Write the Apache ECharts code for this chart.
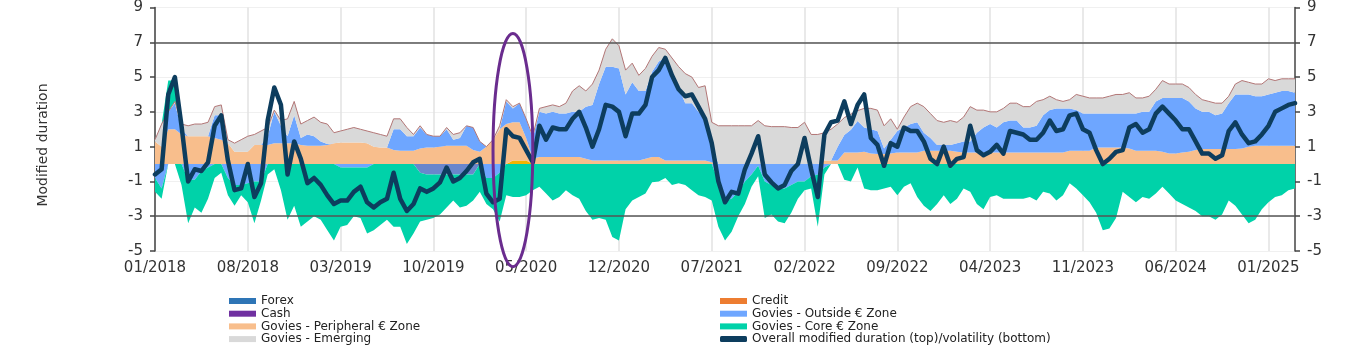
<!DOCTYPE html>
<html><head><meta charset="utf-8">
<script src="https://cdn.jsdelivr.net/npm/echarts@6/dist/echarts.min.js"></script>
<style>html,body{margin:0;padding:0;background:#fff}#c{width:1354px;height:351px}</style>
</head><body><div id="c"></div>
<script>
// x-axis tick labels, one every 7 months (every 14 half-month points)
const tickLabels = ['01/2018','08/2018','03/2019','10/2019','05/2020','12/2020','07/2021','02/2022','09/2022','04/2023','11/2023','06/2024','01/2025'];

// Overall modified duration (half-monthly, 01/2018 .. 03/2025)
const overall = [
-0.6,-0.3,4.0,5.0,2.2,-1.0,-0.3,-0.4,0.1,2.2,
2.8,0.2,-1.5,-1.4,0.0,-1.9,-1.1,2.5,4.4,3.4,
-0.6,1.3,0.3,-1.1,-0.8,-1.2,-1.8,-2.3,-2.1,-2.1,
-1.6,-1.3,-2.2,-2.5,-2.2,-2.0,-0.5,-2.0,-2.7,-2.3,
-1.4,-1.6,-1.4,-1.05,-0.2,-1.0,-0.8,-0.4,0.1,0.3,
-1.7,-2.2,-2.0,2.0,1.6,1.5,0.8,0.1,2.2,1.4,
2.1,2.0,2.0,2.6,3.0,2.1,1.0,2.0,3.4,3.3,
3.0,1.6,2.9,2.9,3.4,5.0,5.4,6.1,5.1,4.3,
3.9,4.0,3.3,2.6,1.2,-1.0,-2.2,-1.6,-1.7,-0.3,
0.6,1.6,-0.6,-1.05,-1.4,-1.2,-0.4,0.0,1.5,-0.3,
-1.9,1.7,2.4,2.5,3.6,2.3,3.4,4.0,1.5,1.1,
-0.1,1.2,1.0,2.1,1.9,1.9,1.3,0.3,0.0,1.0,
-0.1,0.3,0.4,2.2,0.8,0.5,0.7,1.1,0.6,1.9,
1.8,1.7,1.4,1.4,1.8,2.5,1.9,2.0,2.8,2.9,
2.0,1.8,0.8,0.0,0.3,0.7,0.8,2.1,2.3,1.8,
2.0,2.9,3.3,2.9,2.5,2.0,2.0,1.3,0.6,0.6,
0.3,0.5,1.9,2.4,1.7,1.2,1.3,1.7,2.2,3.0,
3.2,3.4,3.5];

const peripheral = [
1.3,1.0,2.0,2.0,1.7,1.6,1.6,1.6,1.6,1.5,
1.4,1.2,0.7,0.7,0.7,1.1,1.1,1.1,1.2,1.2,
1.2,1.2,1.1,1.05,1.05,1.05,1.1,1.2,1.24,1.24,
1.24,1.24,1.2,1.0,0.95,0.95,0.8,0.76,0.76,0.76,
0.9,0.95,0.95,1.0,1.05,1.05,1.05,1.05,0.8,0.7,
1.0,1.4,2.0,2.3,2.2,2.2,1.3,0.3,0.4,0.4,
0.4,0.4,0.4,0.4,0.4,0.3,0.2,0.2,0.2,0.2,
0.2,0.2,0.2,0.2,0.3,0.4,0.4,0.2,0.2,0.2,
0.2,0.2,0.2,0.2,0.1,0,0,0,0,0,
0,0,0,0,0,0,0,0,0,0,
0,0.2,0.2,0.2,0.67,0.67,0.67,0.7,0.6,0.57,
0.57,0.6,0.67,0.67,0.67,0.67,0.76,0.76,0.76,0.76,
0.76,0.7,0.67,0.67,0.67,0.67,0.67,0.67,0.67,0.67,
0.67,0.67,0.67,0.67,0.67,0.67,0.67,0.67,0.76,0.76,
0.76,0.76,0.95,0.95,0.95,0.95,0.95,0.9,0.76,0.76,
0.76,0.76,0.7,0.6,0.6,0.67,0.7,0.8,0.86,0.86,
0.86,0.86,0.86,0.86,0.9,1.0,1.05,1.05,1.05,1.05,
1.05,1.05,1.05];

const outside = [
-0.8,-1.4,1.0,1.5,0.3,-0.9,-0.9,-0.4,-0.2,1.3,
1.4,-0.8,-1.2,-1.2,-1.1,-1.0,-1.0,0.5,1.8,1.0,
0.4,1.6,0.4,0.65,0.55,0.25,0.05,0,-0.2,-0.2,
-0.2,-0.2,-0.2,0,0,0,1.2,1.24,0.84,0.84,
1.2,0.75,0.65,0.6,0.95,0.35,0.45,1.15,1.3,0.6,
-0.8,-0.8,-0.5,1.3,0.8,1.1,1.1,1.2,2.6,2.5,
2.6,2.5,2.5,2.6,2.6,3.0,3.2,4.4,5.4,5.4,
5.3,3.8,4.5,4.0,3.9,4.9,5.5,5.9,5.1,4.2,
3.3,3.3,2.8,2.4,1.1,-1.0,-2.1,-2.0,-1.6,-1.0,
-0.6,-0.1,-1.0,-1.2,-1.4,-1.4,-1.2,-1.0,-1.0,-0.7,
-0.6,-0.2,0,0.8,1.0,1.3,1.8,1.4,1.4,1.33,
0.33,0.8,1.23,1.43,1.63,1.73,1.04,0.74,0.34,0.34,
0.34,0.5,0.63,0.63,1.13,1.43,1.63,1.43,1.73,1.83,
1.83,1.43,1.43,1.53,2.13,2.43,2.53,2.53,2.44,2.34,
2.14,2.14,1.95,1.95,1.95,1.95,1.95,2.0,2.14,2.24,
2.24,2.84,3.1,3.2,3.2,3.13,2.9,2.4,2.14,2.14,
1.94,2.04,2.64,3.14,3.1,3.0,2.85,2.85,2.95,3.05,
3.15,3.15,3.05];

const emerging = [
0.1,1.3,0,0.1,0.3,0.6,0.7,0.7,0.8,0.5,
0.6,0.2,0.5,0.7,0.9,0.6,0.8,0.5,0.1,0.3,
1.0,0.8,0.8,0.8,1.1,1.1,1.15,0.6,0.66,0.76,
0.86,0.76,0.7,0.8,0.75,0.65,0.6,0.6,0.5,0.1,
0.1,0,0,0,0.1,0.3,0.3,0,0,0,
0,0,0.2,0.1,0.1,0,0,0.1,0.2,0.4,
0.4,0.4,0.6,1.2,1.5,0.9,1.2,0.8,1.0,1.6,
1.3,1.4,1.1,0.9,1.3,0.9,0.8,0.5,0.8,1.2,
1.7,1.5,1.4,1.9,1.2,2.2,2.2,2.2,2.2,2.2,
2.2,2.5,2.2,2.15,2.15,2.15,2.1,2.1,2.4,1.7,
1.7,1.6,1.8,1.3,1.0,0.9,0.6,1.1,1.2,1.2,
1.3,1.2,0.1,0.6,1.0,1.1,1.5,1.4,1.4,1.3,
1.4,1.2,1.4,2.0,1.3,1.0,0.7,0.9,0.8,1.0,
1.0,1.2,1.2,1.4,0.9,0.8,0.5,0.4,0.5,0.9,
1.0,0.9,0.9,0.9,1.0,1.1,1.1,1.2,0.9,0.8,
0.9,0.7,1.0,0.8,0.8,0.8,0.8,0.8,0.7,0.6,
0.7,0.6,0.4,0.6,0.8,0.7,0.7,0.7,0.9,0.7,
0.7,0.7,0.8];

const core = [
-0.8,-0.6,1.8,1.2,-1.2,-2.5,-1.6,-2.4,-1.8,-0.8,
-0.5,-1.0,-1.2,-0.6,-1.1,-2.4,-1.1,-0.6,-0.3,-1.5,
-3.2,-2.4,-3.6,-3.3,-3.0,-3.2,-3.8,-4.4,-3.4,-3.3,
-2.8,-2.9,-3.8,-3.8,-3.5,-3.2,-3.6,-3.6,-4.6,-4.0,
-2.8,-2.6,-2.5,-2.3,-1.9,-1.5,-1.9,-1.8,-1.5,-1.6,
-1.5,-1.8,-2.8,-1.8,-1.9,-1.9,-1.8,-1.5,-1.3,-1.7,
-2.1,-1.9,-1.5,-1.8,-2.0,-2.7,-3.2,-3.1,-3.2,-4.2,
-4.4,-2.6,-2.1,-1.9,-1.7,-1.05,-1.0,-0.8,-1.2,-1.1,
-1.2,-1.5,-1.8,-1.9,-2.1,-2.6,-2.3,-1.9,-1.4,-1.3,
-0.7,-0.6,-2.1,-1.7,-1.9,-2.0,-1.6,-1.0,-0.5,-0.7,
-3.0,-0.4,0,0,-0.9,-1.0,-0.2,-1.4,-1.5,-1.5,
-1.4,-1.3,-1.8,-1.3,-1.1,-1.9,-2.4,-2.7,-2.3,-1.8,
-2.3,-2.0,-1.4,-1.6,-2.3,-2.6,-1.9,-1.8,-2.0,-2.0,
-2.0,-2.0,-1.9,-2.1,-1.6,-1.7,-2.1,-1.8,-1.1,-1.4,
-1.8,-2.2,-2.8,-3.8,-3.7,-3.1,-1.6,-1.9,-2.2,-1.9,
-2.0,-1.7,-1.3,-1.7,-2.1,-2.3,-2.5,-2.7,-3.0,-3.0,
-3.2,-2.9,-2.1,-2.4,-2.9,-3.4,-3.2,-2.6,-2.2,-1.9,
-1.8,-1.5,-1.4];

const credit = [
0,0,0,0,0,0,0,0,0,0, 0,0,0,0,0,0,0,0,0,0, 0,0,0,0,0,0,0,0,0,0,
0,0,0,0,0,0,0,0,0,0, 0,0,0,0,0,0,0,0,0,0, 0,0,0,0,0.2,0.2,0.2,0,0,0,
0,0,0,0,0,0,0,0,0,0, 0,0,0,0,0,0,0,0,0,0, 0,0,0,0,0,0,0,0,0,0,
0,0,0,0,0,0,0,0,0,0, 0,0,0,0,0,0,0,0,0,0, 0,0,0,0,0,0,0,0,0,0,
0,0,0,0,0,0,0,0,0,0, 0,0,0,0,0,0,0,0,0,0, 0,0,0,0,0,0,0,0,0,0,
0,0,0,0,0,0,0,0,0,0, 0,0,0,0,0,0,0,0,0,0, 0,0,0];

const forex = [
0,0,0,0,0,0,0,0,0,0, 0,0,0,0,0,0,0,0,0,0, 0,0,0,0,0,0,0,0,0,0,
0,0,0,0,0,0,0,0,0,0, -0.5,-0.6,-0.6,-0.6,-0.6,-0.6,-0.6,-0.6,-0.6,0,
0,0,0,0,0,0,0,0,0,0, 0,0,0,0,0,0,0,0,0,0, 0,0,0,0,0,0,0,0,0,0,
0,0,0,0,0,0,0,0,0,0, 0,0,0,0,0,0,0,0,0,0, 0,0,0,0,0,0,0,0,0,0,
0,0,0,0,0,0,0,0,0,0, 0,0,0,0,0,0,0,0,0,0, 0,0,0,0,0,0,0,0,0,0,
0,0,0,0,0,0,0,0,0,0, 0,0,0,0,0,0,0,0,0,0, 0,0,0,0,0,0,0,0,0,0,
0,0,0];

const cash = [];

const refLines = [7, -3];
const yTicks = {min: -5, max: 9, interval: 2};
// annotation ellipse (category index / value units)
const ellipseCenter = [54.0, 0.8];
const ellipseRadius = [3.35, 6.7];

// half-month categories 2018-01 .. 2025-03
const categories = [];
for (let y = 2018; y <= 2025; y++) for (let m = 1; m <= 12; m++) for (const d of ['01', '16']) {
  if (categories.length < overall.length) categories.push(y + '-' + String(m).padStart(2, '0') + '-' + d);
}

const FONT = 'DejaVu Sans';
const C = {
  forex: '#2E75B6', forexArea: '#6A86CC', credit: '#ED7D31', creditArea: '#F4B400', cash: '#7030A0',
  outside: '#6EA6FF', peripheral: '#F8BE8C', core: '#00D2A9', emerging: '#D9D9D9',
  outline: '#B27676', overall: '#0D3D5E', ellipse: '#6A2C8E'
};

const base = {type: 'line', symbol: 'none', showSymbol: false, smooth: false, lineStyle: {width: 0},
  emphasis: {disabled: true}, animation: false, silent: true};
const pos = v => (v > 0 ? v : 0);
const neg = v => (v < 0 ? v : 0);

const chart = echarts.init(document.getElementById('c'));
const yAxisCommon = {
  type: 'value', min: yTicks.min, max: yTicks.max, interval: yTicks.interval,
  axisLine: {show: true, lineStyle: {color: '#444', width: 1.5}},
  axisTick: {show: true, length: 5, lineStyle: {color: '#444', width: 1.5}},
  axisLabel: {fontFamily: FONT, fontSize: 15, color: '#333', margin: 12}
};
const legendCommon = {
  orient: 'vertical', padding: 0, itemGap: 0.7, itemWidth: 27, itemHeight: 6, icon: 'rect',
  selectedMode: false, textStyle: {fontFamily: FONT, fontSize: 12, lineHeight: 12, color: '#222'}
};
chart.setOption({
  animation: false,
  grid: {left: 155, right: 59, top: 6, bottom: 100, containLabel: false},
  xAxis: {
    type: 'category', data: categories, boundaryGap: false,
    axisLine: {show: false}, axisTick: {show: false},
    axisLabel: {interval: (i) => i % 14 === 0, formatter: (v, i) => tickLabels[i / 14],
      fontFamily: FONT, fontSize: 15, color: '#333', margin: 10},
    splitLine: {show: true, interval: (i) => i % 14 === 0, lineStyle: {color: '#e2e2e2', width: 1.5}}
  },
  yAxis: [
    Object.assign({position: 'left', splitLine: {show: true, lineStyle: {color: '#f0f0f0', width: 1}}}, yAxisCommon),
    Object.assign({position: 'right', splitLine: {show: false}}, yAxisCommon)
  ],
  legend: [
    Object.assign({left: 229, top: 295, data: [
      {name: 'Forex', itemStyle: {color: C.forex}},
      {name: 'Cash', itemStyle: {color: C.cash}},
      {name: 'Govies - Peripheral € Zone', itemStyle: {color: C.peripheral}},
      {name: 'Govies - Emerging', itemStyle: {color: C.emerging}}
    ]}, legendCommon),
    Object.assign({left: 720, top: 295, data: [
      {name: 'Credit', itemStyle: {color: C.credit}},
      {name: 'Govies - Outside € Zone', itemStyle: {color: C.outside}},
      {name: 'Govies - Core € Zone', itemStyle: {color: C.core}},
      {name: 'Overall modified duration (top)/volatility (bottom)', icon: 'roundRect', itemStyle: {color: C.overall}}
    ]}, legendCommon)
  ],
  series: [
    Object.assign({}, base, {name: 'Forex', stack: 'neg', data: forex, color: C.forex, areaStyle: {color: C.forexArea, opacity: 1}}),
    Object.assign({}, base, {name: 'Cash', stack: 'neg', data: cash, color: C.cash, areaStyle: {opacity: 1}}),
    Object.assign({}, base, {name: 'Govies - Outside € Zone', stack: 'neg', data: outside.map(neg), color: C.outside, areaStyle: {opacity: 1}}),
    Object.assign({}, base, {name: 'Govies - Core € Zone', stack: 'neg', data: core.map(neg), color: C.core, areaStyle: {opacity: 1}}),
    Object.assign({}, base, {name: 'Credit', stack: 'pos', data: credit, color: C.credit, areaStyle: {color: C.creditArea, opacity: 1}}),
    Object.assign({}, base, {name: 'Govies - Peripheral € Zone', stack: 'pos', data: peripheral, color: C.peripheral, areaStyle: {opacity: 1}}),
    Object.assign({}, base, {name: 'Govies - Outside € Zone', stack: 'pos', data: outside.map(pos), color: C.outside, areaStyle: {opacity: 1}}),
    Object.assign({}, base, {name: 'Govies - Emerging', stack: 'pos', data: emerging, color: C.emerging, areaStyle: {color: C.emerging, opacity: 1},
      lineStyle: {width: 1, color: C.outline}}),
    Object.assign({}, base, {name: 'Govies - Core € Zone', stack: 'pos', data: core.map(pos), color: C.core, areaStyle: {opacity: 1}}),
    {name: 'Overall modified duration (top)/volatility (bottom)', type: 'line', data: overall, symbol: 'none', showSymbol: false,
      color: C.overall, lineStyle: {width: 4.5, color: C.overall, join: 'round', cap: 'round'}, z: 5, silent: true,
      markLine: {silent: true, symbol: 'none', label: {show: false}, lineStyle: {color: '#555', width: 1.5, type: 'solid'},
        data: refLines.map(v => ({yAxis: v}))}}
  ]
});

const cpx = chart.convertToPixel({gridIndex: 0}, ellipseCenter);
const epx = chart.convertToPixel({gridIndex: 0}, [ellipseCenter[0] + ellipseRadius[0], ellipseCenter[1] + ellipseRadius[1]]);
chart.setOption({
  graphic: [
    {type: 'ellipse', z: 100, silent: true,
      shape: {cx: cpx[0], cy: cpx[1], rx: Math.abs(epx[0] - cpx[0]), ry: Math.abs(cpx[1] - epx[1])},
      style: {fill: 'none', stroke: C.ellipse, lineWidth: 3}},
    {type: 'text', x: 43, y: 145, rotation: Math.PI / 2, silent: true,
      style: {text: 'Modified duration', align: 'center', verticalAlign: 'middle', font: '14px "DejaVu Sans"', fill: '#333'}}
  ]
});
</script>
</body></html>
